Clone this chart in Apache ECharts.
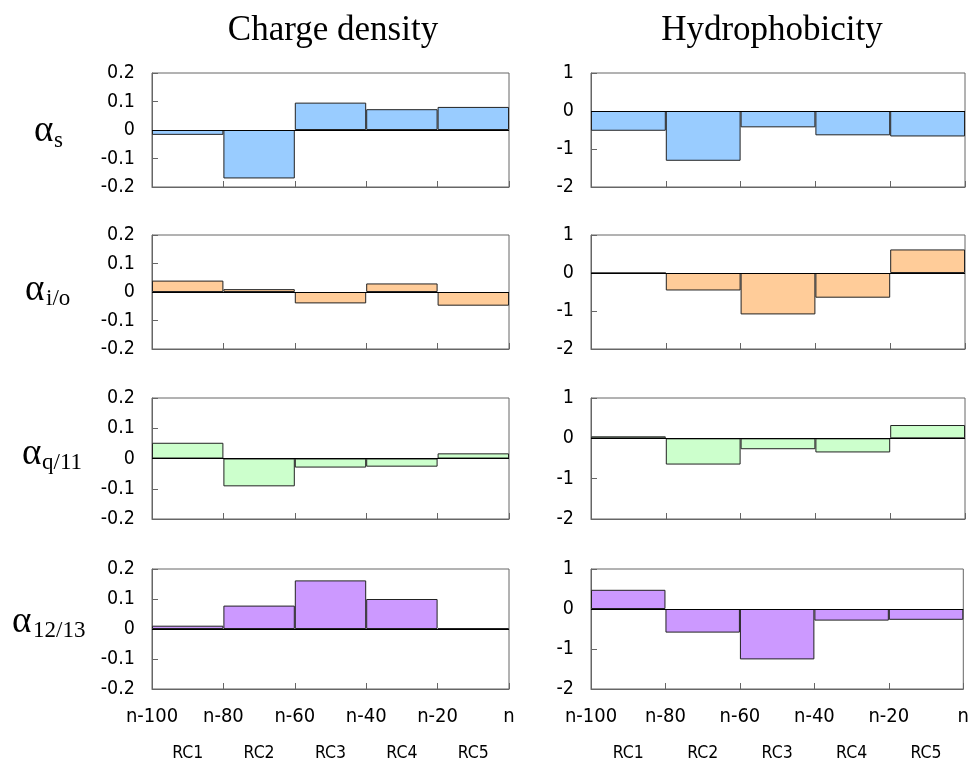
<!DOCTYPE html>
<html>
<head>
<meta charset="utf-8">
<script src="https://cdn.jsdelivr.net/npm/echarts@6/dist/echarts.min.js"></script>
<style>
  html, body { margin: 0; padding: 0; background: #fff; }
  #main { width: 972px; height: 762px; }
</style>
</head>
<body>
<div id="main"></div>
<script>
const chart = echarts.init(document.getElementById('main'));

// data
const regions = ['RC1', 'RC2', 'RC3', 'RC4', 'RC5'];
const boundaryLabels = ['n-100', 'n-80', 'n-60', 'n-40', 'n-20', 'n'];
const columnTitles = ['Charge density', 'Hydrophobicity'];
const rowSubscripts = ['s', 'i/o', 'q/11', '12/13'];

const chargeS = [-0.017, -0.17, 0.096, 0.073, 0.081];
const chargeIO = [0.04, 0.01, -0.04, 0.03, -0.048];
const chargeQ = [0.052, -0.092, -0.03, -0.027, 0.017];
const charge12 = [0.011, 0.078, 0.162, 0.1, 0.003];

const hydroS = [-0.52, -1.31, -0.43, -0.64, -0.67];
const hydroIO = [0, -0.46, -1.09, -0.65, 0.62];
const hydroQ = [0.05, -0.65, -0.27, -0.35, 0.33];
const hydro12 = [0.48, -0.59, -1.26, -0.29, -0.27];

const rowColors = ['#99ccff', '#ffcc99', '#ccffcc', '#cc99ff'];
const chargeRows = [chargeS, chargeIO, chargeQ, charge12];
const hydroRows = [hydroS, hydroIO, hydroQ, hydro12];

// layout
const rowBoxes = [
  { top: 73, height: 114 },
  { top: 235, height: 114 },
  { top: 398, height: 121 },
  { top: 569, height: 123 }
];
const colBoxes = [
  { left: 152, width: 357, min: -0.2, max: 0.2, interval: 0.1, titleX: 333 },
  { left: 591, width: 374, min: -2, max: 1, interval: 1, titleX: 772 }
];
const labelPos = [
  { ax: 34, ay: 131, sx: 54, sy: 141 },
  { ax: 25, ay: 290, sx: 46, sy: 299 },
  { ax: 22, ay: 454, sx: 42, sy: 463 },
  { ax: 12, ay: 622, sx: 33, sy: 631 }
];

const axisGray = '#666';
const sansFont = '"DejaVu Sans Condensed", "DejaVu Sans"';
const serifFont = 'Liberation Serif';

const grids = [];
const xAxes = [];
const yAxes = [];
const series = [];

colBoxes.forEach((col, c) => {
  const rows = c === 0 ? chargeRows : hydroRows;
  rowBoxes.forEach((row, r) => {
    const gi = grids.length;
    const isBottom = r === rowBoxes.length - 1;
    grids.push({
      left: col.left,
      top: row.top,
      width: col.width,
      height: row.height,
      show: true,
      borderColor: axisGray,
      borderWidth: 1
    });
    const xi = xAxes.length;
    xAxes.push({
      type: 'category',
      gridIndex: gi,
      data: regions,
      position: 'bottom',
      boundaryGap: true,
      axisLine: { onZero: false, lineStyle: { color: axisGray } },
      axisTick: { show: true, inside: true, length: 6, interval: 0, lineStyle: { color: axisGray } },
      axisLabel: {
        show: isBottom,
        margin: 55,
        fontSize: 17.5,
        fontFamily: sansFont,
        color: '#000'
      },
      splitLine: { show: false }
    });
    if (isBottom) {
      xAxes.push({
        type: 'category',
        gridIndex: gi,
        data: boundaryLabels,
        position: 'bottom',
        boundaryGap: false,
        axisLine: { show: false, onZero: false },
        axisTick: { show: false },
        axisLabel: {
          interval: 0,
          margin: 18,
          fontSize: 20,
          fontFamily: sansFont,
          color: '#000'
        },
        splitLine: { show: false }
      });
    }
    yAxes.push({
      type: 'value',
      gridIndex: gi,
      min: col.min,
      max: col.max,
      interval: col.interval,
      axisLine: { show: true, lineStyle: { color: axisGray } },
      axisTick: { show: true, inside: true, length: 6, lineStyle: { color: axisGray } },
      axisLabel: {
        margin: 17,
        fontSize: 19.5,
        fontFamily: sansFont,
        color: '#000'
      },
      splitLine: { show: false }
    });
    series.push({
      type: 'bar',
      xAxisIndex: xi,
      yAxisIndex: gi,
      data: rows[r],
      barCategoryGap: '0%',
      itemStyle: { color: rowColors[r], borderColor: '#222', borderWidth: 1 },
      silent: true,
      markLine: {
        silent: true,
        symbol: 'none',
        label: { show: false },
        lineStyle: { color: '#000', width: 1, type: 'solid' },
        data: [{ yAxis: 0 }]
      }
    });
  });
});

const graphics = [];
columnTitles.forEach((t, c) => {
  graphics.push({
    type: 'text',
    x: colBoxes[c].titleX,
    y: 31,
    style: {
      text: t,
      fontSize: 35,
      fontFamily: serifFont,
      fill: '#000',
      textAlign: 'center',
      textVerticalAlign: 'middle'
    }
  });
});
rowSubscripts.forEach((s, r) => {
  const p = labelPos[r];
  graphics.push({
    type: 'text',
    x: p.ax,
    y: p.ay,
    style: {
      text: 'α',
      fontSize: 37,
      fontFamily: serifFont,
      fill: '#000',
      textAlign: 'left',
      textVerticalAlign: 'middle'
    }
  });
  graphics.push({
    type: 'text',
    x: p.sx,
    y: p.sy,
    style: {
      text: s,
      fontSize: 23,
      fontFamily: serifFont,
      fill: '#000',
      textAlign: 'left',
      textVerticalAlign: 'middle'
    }
  });
});

chart.setOption({
  animation: false,
  backgroundColor: '#fff',
  grid: grids,
  xAxis: xAxes,
  yAxis: yAxes,
  series: series,
  graphic: graphics
});
</script>
</body>
</html>
